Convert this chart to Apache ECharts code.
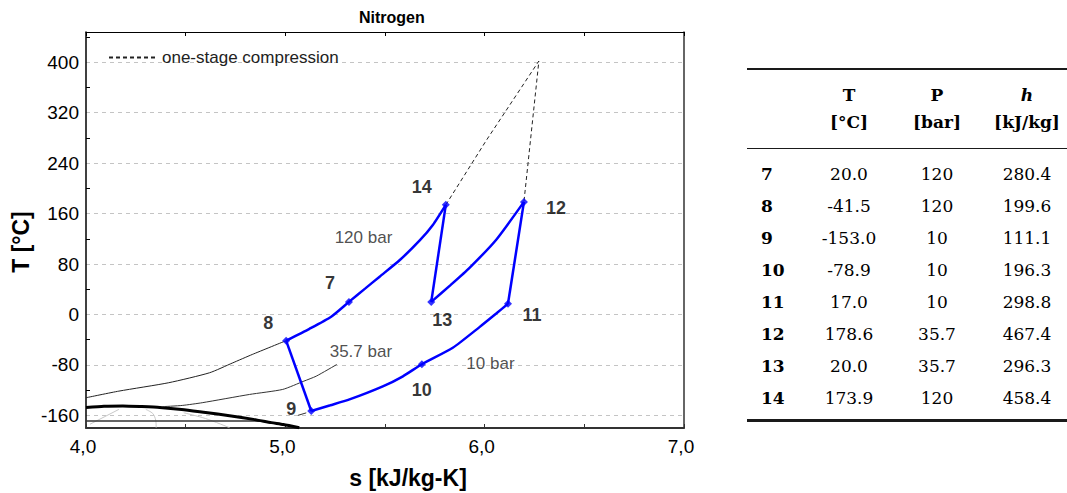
<!DOCTYPE html>
<html>
<head>
<meta charset="utf-8">
<script src="https://cdn.jsdelivr.net/npm/echarts@6/dist/echarts.min.js"></script>
<style>
html,body{margin:0;padding:0;background:#fff;}
#wrap{position:relative;width:1067px;height:493px;overflow:hidden;background:#fff;}
#chart{position:absolute;left:0;top:0;width:1067px;height:493px;}
#tbl{position:absolute;left:0;top:0;width:1067px;height:493px;font-family:"DejaVu Serif",serif;font-size:17px;color:#000;pointer-events:none;}
.c{position:absolute;transform:translate(-50%,-50%);white-space:nowrap;line-height:1;}
.l{position:absolute;transform:translate(0,-50%);white-space:nowrap;line-height:1;font-weight:bold;}
.b{font-weight:bold;}
.rule{position:absolute;left:747px;right:0;background:#1a1a1a;}
</style>
</head>
<body>
<div id="wrap">
  <div id="chart"></div>
  <div id="tbl"></div>
</div>
<script>
// ---------------- data ----------------
const stateNames = ['7', '8', '9', '10', '11', '12', '13', '14'];
const stateT = [20.0, -41.5, -153.0, -78.9, 17.0, 178.6, 20.0, 173.9];
const stateP = [120, 120, 10, 10, 10, 35.7, 35.7, 120];
const stateH = [280.4, 199.6, 111.1, 196.3, 298.8, 467.4, 296.3, 458.4];
const stateS = [5.319, 5.004, 5.130, 5.685, 6.117, 6.197, 5.732, 5.805];

const tableHeadTop = ['T', 'P', 'h'];
const tableHeadUnit = ['[°C]', '[bar]', '[kJ/kg]'];

const xTicks = [4.0, 4.5, 5.0, 5.5, 6.0, 6.5, 7.0];
const yMajor = [-160, -80, 0, 80, 160, 240, 320, 400];
const yMinor = [-120, -40, 40, 120, 200, 280, 360, 440];

// 120 bar isobar (8 -> 7 -> 14)
const iso120 = [[5.004, -41.5], [5.121, -22.7], [5.23, -3.5], [5.319, 20], [5.40, 41], [5.473, 60], [5.573, 86], [5.673, 117], [5.74, 142], [5.805, 173.9]];
// 35.7 bar isobar (13 -> 12)
const iso35 = [[5.732, 20], [5.83, 47], [5.924, 74], [6.058, 118.6], [6.197, 178.6]];
// 10 bar isobar (9 -> 10 -> 11)
const iso10 = [[5.130, -153], [5.226, -144], [5.322, -134.7], [5.489, -114], [5.590, -98], [5.685, -78.9], [5.840, -52.8], [5.974, -20], [6.058, 1.5], [6.117, 17]];
// one-stage compression (dashed)
const oneStage = [[5.805, 173.9], [6.008, 276], [6.272, 402], [6.197, 178.6], [6.117, 17]];
// thin black isobar extensions
const ext120 = [[4.0, -132], [4.165, -121.5], [4.415, -108.2], [4.62, -92.4], [4.734, -77], [4.834, -63.4], [5.004, -41.5]];
const ext35 = [[4.38, -146.2], [4.483, -144.2], [4.583, -139.9], [4.82, -126.8], [4.987, -118.8], [5.093, -105.7], [5.155, -97.8], [5.258, -79.3]];
const ext10 = [[5.063, -160], [5.105, -156]];
// saturation dome and two-phase lines
const dome = [[4.0, -147.5], [4.09, -145.5], [4.185, -145], [4.28, -146], [4.37, -147.3], [4.48, -150.5], [4.60, -155.5], [4.72, -160.5], [4.84, -166.3], [4.93, -171.5], [4.99, -174.5], [5.07, -179.5]];
const twoPhase = [[4.0, -169], [4.9, -169]];
const qualA = [[4.02, -174], [4.165, -150.5]];
const qualB = [[4.30, -150.5], [4.335, -157], [4.35, -168], [4.352, -179.5]];
const qualC = [[4.49, -155.8], [4.60, -165], [4.72, -179.5]];

const isoLabels = ['120 bar', '35.7 bar', '10 bar'];
const isoLabelS = [5.392, 5.379, 6.029];
const isoLabelT = [121.8, -59.2, -77.7];

// ---------------- styling ----------------
const SANS = '"Liberation Sans", Arial, sans-serif';
const BLUE = '#0000ff';
const pointLabelOffset = {
  '7': [-19, -19], '8': [-18, -18], '9': [-20, -2], '10': [0, 26],
  '11': [24, 11], '12': [32, 6], '13': [11, 18], '14': [-24, -18]
};

function pt(i) { return [stateS[i], stateT[i]]; }
const idx = n => stateNames.indexOf(n);

function lineSeries(data, color, width, opts) {
  return Object.assign({
    type: 'line', data: data, showSymbol: false, symbol: 'none',
    lineStyle: { color: color, width: width }, itemStyle: { color: color },
    silent: true, animation: false,
    xAxisIndex: 0, yAxisIndex: 0, z: 2
  }, opts || {});
}

const series = [
  lineSeries(qualA, '#c8c8c8', 1, { z: 1 }),
  lineSeries(qualB, '#c8c8c8', 1, { z: 1, smooth: 0.3 }),
  lineSeries(qualC, '#c8c8c8', 1, { z: 1, smooth: 0.3 }),
  lineSeries(twoPhase, '#333', 1.5, { z: 1 }),
  lineSeries(dome, '#000', 3, { smooth: 0.2, z: 2 }),
  lineSeries(ext120, '#222', 1, { smooth: 0.2 }),
  lineSeries(ext35, '#333', 1, { smooth: 0.2 }),
  lineSeries(ext10, '#333', 1),
  Object.assign(lineSeries(oneStage, '#222', 1, { z: 3 }), {
    name: 'one-stage compression',
    lineStyle: { color: '#222', width: 1, type: [4, 3] }
  }),
  lineSeries(iso120, BLUE, 2.5, { smooth: 0.2, z: 5 }),
  lineSeries(iso35, BLUE, 2.5, { smooth: 0.2, z: 5 }),
  lineSeries(iso10, BLUE, 2.5, { smooth: 0.2, z: 5 }),
  lineSeries([pt(idx('14')), pt(idx('13'))], BLUE, 2.5, { z: 5 }),
  lineSeries([pt(idx('12')), pt(idx('11'))], BLUE, 2.5, { z: 5 }),
  lineSeries([pt(idx('9')), pt(idx('8'))], BLUE, 2.5, { z: 5 }),
  {
    type: 'scatter', symbol: 'diamond', symbolSize: 8, z: 6, silent: true, animation: false,
    itemStyle: { color: BLUE },
    data: stateNames.map((n, i) => ({
      name: n, value: [stateS[i], stateT[i]],
      label: {
        show: true, position: 'inside', offset: pointLabelOffset[n], formatter: '{b}',
        fontFamily: SANS, fontSize: 18, fontWeight: 'bold', color: '#000',
        textBorderWidth: 0
      }
    }))
  },
  {
    type: 'scatter', symbolSize: 0, z: 6, silent: true, animation: false,
    data: isoLabels.map((n, i) => ({ name: n, value: [isoLabelS[i], isoLabelT[i]] })),
    label: {
      show: true, position: 'inside', formatter: '{b}',
      fontFamily: SANS, fontSize: 17, color: '#222', textBorderWidth: 0
    }
  }
];

const yRange = { min: -180, max: 448 };

const option = {
  backgroundColor: '#fff',
  animation: false,
  title: {
    text: 'Nitrogen', left: 359, top: 9, padding: 0,
    textStyle: { fontFamily: SANS, fontSize: 16, fontWeight: 'bold', color: '#000' }
  },
  legend: {
    data: ['one-stage compression'], left: 108, top: 49, padding: 0,
    itemWidth: 48, itemHeight: 14, selectedMode: false,
    itemStyle: { color: 'rgba(0,0,0,0)', borderColor: 'rgba(0,0,0,0)', borderWidth: 0 },
    textStyle: { fontFamily: SANS, fontSize: 17, color: '#222' }
  },
  grid: { left: 86, right: 383, top: 32, bottom: 65, containLabel: false },
  xAxis: [
    {
      type: 'value', position: 'bottom', min: 4, max: 7, interval: 0.5,
      axisLine: { show: true, onZero: false, lineStyle: { color: '#333', width: 2 } },
      axisTick: { show: true, inside: true, length: 4, lineStyle: { color: '#333' } },
      splitLine: { show: false },
      axisLabel: {
        margin: 9, fontFamily: SANS, fontSize: 19, color: '#000', padding: [0, 6, 0, 0],
        formatter: v => (Math.abs(v - Math.round(v)) < 1e-6 ? v.toFixed(1).replace('.', ',') : '')
      }
    },
    {
      type: 'value', position: 'top', min: 4, max: 7, interval: 0.5,
      axisLine: { show: true, onZero: false, lineStyle: { color: '#000', width: 1 } },
      axisTick: { show: true, inside: true, length: 4, lineStyle: { color: '#000' } },
      splitLine: { show: false }, axisLabel: { show: false }
    }
  ],
  yAxis: [
    {
      type: 'value', position: 'left', min: yRange.min, max: yRange.max,
      axisLine: { show: true, onZero: false, lineStyle: { color: '#000', width: 1.5 } },
      axisTick: { show: false, customValues: yMajor },
      axisLabel: {
        customValues: yMajor, margin: 7, fontFamily: SANS, fontSize: 19, color: '#000'
      },
      splitLine: { show: true, lineStyle: { color: '#c4c4c4', width: 1, type: [4, 4] } }
    },
    {
      type: 'value', position: 'left', min: yRange.min, max: yRange.max,
      axisLine: { show: false, onZero: false },
      axisTick: { show: true, inside: true, length: 4, customValues: yMinor, lineStyle: { color: '#000' } },
      axisLabel: { show: false }, splitLine: { show: false }
    },
    {
      type: 'value', position: 'right', min: yRange.min, max: yRange.max,
      axisLine: { show: true, onZero: false, lineStyle: { color: '#333', width: 1.5 } },
      axisTick: { show: false }, axisLabel: { show: false }, splitLine: { show: false }
    }
  ],
  graphic: [
    {
      type: 'text', x: 21, y: 242, rotation: Math.PI / 2,
      style: { text: 'T [°C]', align: 'center', verticalAlign: 'middle', font: 'bold 23px "Liberation Sans", Arial, sans-serif', fill: '#000' }
    },
    {
      type: 'text', x: 408, y: 478,
      style: { text: 's [kJ/kg-K]', align: 'center', verticalAlign: 'middle', font: 'bold 23px "Liberation Sans", Arial, sans-serif', fill: '#000' }
    }
  ],
  series: series
};

const chart = echarts.init(document.getElementById('chart'), null, { renderer: 'svg', width: 1067, height: 493 });
chart.setOption(option);

// ---------------- table ----------------
const tbl = document.getElementById('tbl');
const colX = [849, 937, 1027];
const headY = [95, 122];
const rowY0 = 173.5, rowStep = 32.1;
function addDiv(cls, text, x, y, extra) {
  const d = document.createElement('div');
  d.className = cls;
  d.textContent = text;
  d.style.left = x + 'px';
  d.style.top = y + 'px';
  if (extra) Object.assign(d.style, extra);
  tbl.appendChild(d);
}
[[67.5, 2], [147.5, 1.5], [419, 2.5]].forEach(r => {
  const d = document.createElement('div');
  d.className = 'rule';
  d.style.top = r[0] + 'px';
  d.style.height = r[1] + 'px';
  tbl.appendChild(d);
});
tableHeadTop.forEach((t, i) => addDiv('c b', t, colX[i], headY[0], i === 2 ? { fontStyle: 'italic' } : null));
tableHeadUnit.forEach((t, i) => addDiv('c b', t, colX[i], headY[1]));
stateNames.forEach((n, r) => {
  const y = rowY0 + r * rowStep;
  addDiv('l', n, 761, y);
  addDiv('c', stateT[r].toFixed(1), colX[0], y);
  addDiv('c', String(stateP[r]), colX[1], y);
  addDiv('c', stateH[r].toFixed(1), colX[2], y);
});
</script>
</body>
</html>
